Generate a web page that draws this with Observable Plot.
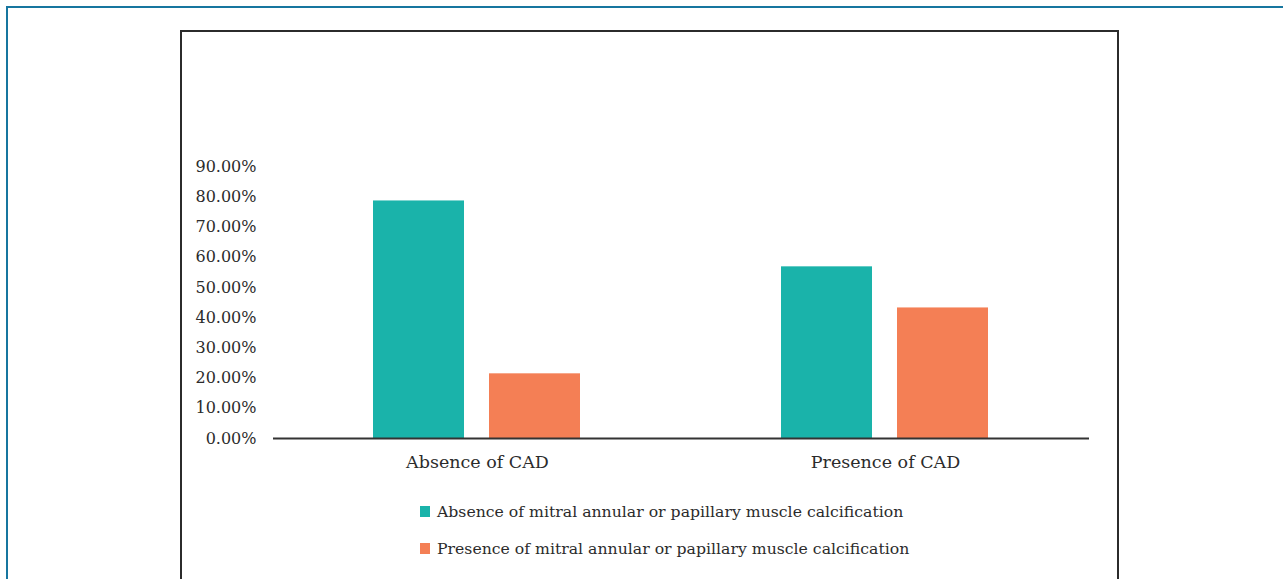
<!DOCTYPE html>
<html>
<head>
<meta charset="utf-8">
<script src="https://cdn.jsdelivr.net/npm/d3@7"></script>
<script src="https://cdn.jsdelivr.net/npm/@observablehq/plot@0.6"></script>
<style>
  html, body { margin: 0; padding: 0; background: #fff; overflow: hidden; }
  body { width: 1283px; height: 579px; position: relative; font-family: "DejaVu Serif", serif; }
  #outer { position: absolute; left: 6px; top: 6px; width: 1290px; height: 600px; border-top: 2.5px solid #17769f; border-left: 2.5px solid #17769f; box-sizing: border-box; }
  #inner { position: absolute; left: 180px; top: 30px; width: 939px; height: 600px; border: 2px solid #2b2b2b; box-sizing: border-box; }
  #chart { position: absolute; left: 0; top: 0; }
  #legend { position: absolute; left: 420px; top: 0; font-size: 15.7px; color: #2b2b2b; }
  .item { position: absolute; left: 0; display: flex; align-items: center; white-space: nowrap; }
  .sw { width: 10px; height: 11px; margin-right: 7px; }
  #chart svg g[aria-label="fx-axis tick label"] text { font-size: 17.5px; }
</style>
</head>
<body>
<div id="outer"></div>
<div id="inner"></div>
<div id="chart"></div>
<div id="legend"></div>
<script>
const categories = ["Absence of CAD", "Presence of CAD"];
const seriesNames = [
  "Absence of mitral annular or papillary muscle calcification",
  "Presence of mitral annular or papillary muscle calcification"
];
const seriesColors = ["#1ab3aa", "#f47f55"];
const absenceCalcValues = [0.786, 0.568];
const presenceCalcValues = [0.214, 0.432];
const yTicks = [0, 0.1, 0.2, 0.3, 0.4, 0.5, 0.6, 0.7, 0.8, 0.9];

const seriesValues = [absenceCalcValues, presenceCalcValues];
const data = [];
categories.forEach((c, i) => {
  seriesNames.forEach((s, j) => data.push({category: c, series: s, value: seriesValues[j][i]}));
});

const plot = Plot.plot({
  width: 1283,
  height: 490,
  marginLeft: 272,
  marginRight: 194,
  marginTop: 166,
  marginBottom: 52,
  style: {fontFamily: "DejaVu Serif", fontSize: "16px", color: "#2b2b2b", background: "transparent"},
  fx: {domain: categories, padding: 0, axis: "bottom", tickSize: 0, tickPadding: 17, label: null},
  x: {domain: seriesNames, axis: null, paddingInner: 0.214, paddingOuter: 0.853},
  y: {domain: [0, 0.9], ticks: yTicks, tickFormat: d => (d * 100).toFixed(2) + "%", tickSize: 0, tickPadding: 17, label: null},
  color: {domain: seriesNames, range: seriesColors},
  marks: [
    Plot.barY(data, {fx: "category", x: "series", y: "value", fill: "series"}),
    Plot.ruleY([0], {stroke: "#333", strokeWidth: 2})
  ]
});
document.getElementById("chart").appendChild(plot);

const legend = document.getElementById("legend");
const rowCenters = [511, 548];
seriesNames.forEach((s, j) => {
  const item = document.createElement("div");
  item.className = "item";
  item.style.top = (rowCenters[j] - 12) + "px";
  item.style.height = "24px";
  const sw = document.createElement("div");
  sw.className = "sw";
  sw.style.background = seriesColors[j];
  const tx = document.createElement("span");
  tx.textContent = s;
  item.appendChild(sw);
  item.appendChild(tx);
  legend.appendChild(item);
});
</script>
</body>
</html>
